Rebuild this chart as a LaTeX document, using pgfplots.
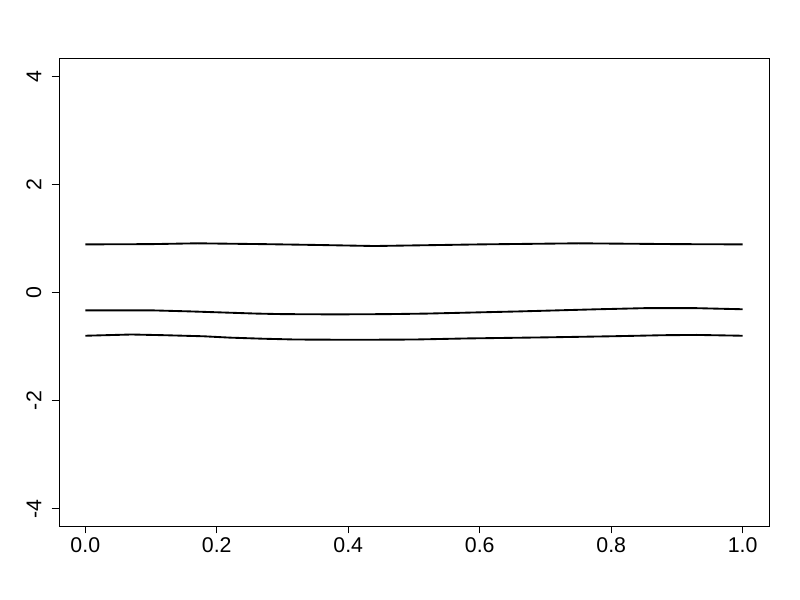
\documentclass[border=0pt]{standalone}
\usepackage{fontspec}
\setmainfont{Liberation Sans}
\usepackage{pgfplots}
\pgfplotsset{compat=1.18}

\begin{document}
\begin{tikzpicture}
\begin{axis}[
  scale only axis,
  width=532.5pt, height=350.25pt,
  xmin=-0.04, xmax=1.04,
  ymin=-4.32, ymax=4.32,
  axis line style={line width=0.75pt},
  xtick={0,0.2,0.4,0.6,0.8,1},
  xticklabels={0.0,0.2,0.4,0.6,0.8,1.0},
  ytick={-4,-2,0,2,4},
  yticklabels={-4,-2,0,2,4},
  tick align=outside,
  major tick length=5.5pt,
  tick style={line width=0.75pt, black},
  xtick pos=bottom, ytick pos=left,
  tick label style={font=\fontsize{16}{19}\selectfont},
  xticklabel style={anchor=north, inner sep=0pt},
  xticklabel shift=3pt,
  yticklabel style={rotate=90, anchor=south, inner sep=0pt},
  yticklabel shift=7.5pt,
]
% upper line
\addplot[black, line width=1.4pt] coordinates {
(0,0.89) (0.1,0.895) (0.17,0.91) (0.27,0.895) (0.35,0.88) (0.44,0.86)
(0.52,0.875) (0.6,0.89) (0.75,0.91) (0.9,0.895) (1.0,0.89)
};
% middle line
\addplot[black, line width=1.4pt] coordinates {
(0,-0.33) (0.1,-0.33) (0.16,-0.35) (0.21,-0.37) (0.26,-0.39) (0.3,-0.40)
(0.38,-0.405) (0.46,-0.40) (0.52,-0.39) (0.59,-0.37) (0.66,-0.35)
(0.72,-0.33) (0.78,-0.31) (0.85,-0.29) (0.93,-0.29) (1.0,-0.31)
};
% lower line
\addplot[black, line width=1.4pt] coordinates {
(0,-0.80) (0.07,-0.777) (0.12,-0.79) (0.18,-0.81) (0.22,-0.835) (0.27,-0.855)
(0.32,-0.87) (0.41,-0.875) (0.5,-0.87) (0.58,-0.85) (0.7,-0.83)
(0.8,-0.81) (0.88,-0.79) (0.93,-0.785) (1.0,-0.80)
};
\end{axis}
\pgfresetboundingbox
\path ([xshift=-44.25pt,yshift=-55.5pt]current axis.south west)
  rectangle ([xshift=23.25pt,yshift=44.25pt]current axis.north east);
\end{tikzpicture}
\end{document}
